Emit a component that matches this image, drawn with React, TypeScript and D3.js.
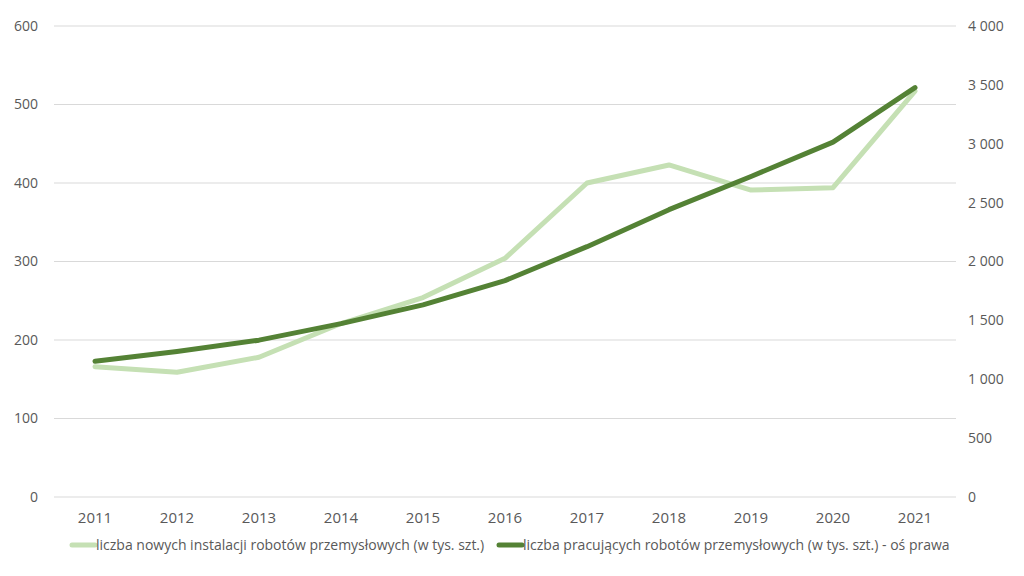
import React from 'react';
import * as d3 from 'd3';

const years = ['2011', '2012', '2013', '2014', '2015', '2016', '2017', '2018', '2019', '2020', '2021'];
const newInstallations = [166, 159, 178, 221, 254, 304, 400, 423, 391, 394, 517];
const operationalStock = [1153, 1235, 1332, 1472, 1632, 1838, 2126, 2440, 2722, 3014, 3477];
const leftTicks = [0, 100, 200, 300, 400, 500, 600];
const rightTicks = [0, 500, 1000, 1500, 2000, 2500, 3000, 3500, 4000];
const legendLabels = [
  'liczba nowych instalacji robotów przemysłowych (w tys. szt.)',
  'liczba pracujących robotów przemysłowych (w tys. szt.) - oś prawa',
];

const W = 1024;
const H = 576;
const margin = { top: 26, right: 68, bottom: 79, left: 54 };
const lightGreen = '#C5E0B4';
const darkGreen = '#548235';
const textColor = '#595959';
const font = '"Liberation Sans Narrow", "Open Sans", sans-serif';

const fmtSpace = (v: number) => d3.format(',')(v).replace(/,/g, ' ');

const App: React.FC = () => {
  const x = d3.scaleBand().domain(years).range([margin.left, W - margin.right]);
  const yL = d3.scaleLinear().domain([0, 600]).range([H - margin.bottom, margin.top]);
  const yR = d3.scaleLinear().domain([0, 4000]).range([H - margin.bottom, margin.top]);
  const cx = (d: string) => (x(d) ?? 0) + x.bandwidth() / 2;

  const lightLine = d3.line<number>().x((_, i) => cx(years[i])).y(d => yL(d))(newInstallations) ?? '';
  const darkLine = d3.line<number>().x((_, i) => cx(years[i])).y(d => yR(d))(operationalStock) ?? '';

  return (
    <svg width={W} height={H} style={{ position: 'absolute', left: 0, top: 0, background: '#fff' }}
      fontFamily={font}>
      {leftTicks.map(t => (
        <g key={t}>
          <line x1={margin.left} x2={W - margin.right} y1={yL(t)} y2={yL(t)} stroke="#D9D9D9" strokeWidth={1} />
          <text x={38} y={yL(t)} dy="0.35em" textAnchor="end" fontSize={14} fill={textColor}
            fontFamily='"Open Sans", sans-serif'>{t}</text>
        </g>
      ))}
      {rightTicks.map(t => (
        <text key={t} x={968} y={yR(t)} dy="0.35em" textAnchor="start" fontSize={14} fill={textColor}
          fontFamily='"Open Sans", sans-serif'>{fmtSpace(t)}</text>
      ))}
      {years.map(y => (
        <text key={y} x={cx(y)} y={518} dy="0.35em" textAnchor="middle" fontSize={15} fill={textColor}>{y}</text>
      ))}
      <path d={lightLine} fill="none" stroke={lightGreen} strokeWidth={5} strokeLinejoin="round" strokeLinecap="round" />
      <path d={darkLine} fill="none" stroke={darkGreen} strokeWidth={5} strokeLinejoin="round" strokeLinecap="round" />

      <g>
        <line x1={72} x2={95} y1={545} y2={545} stroke={lightGreen} strokeWidth={5} strokeLinecap="round" />
        <text x={96} y={545} dy="0.35em" fontSize={14} fill={textColor}>{legendLabels[0]}</text>
        <line x1={499} x2={522} y1={545} y2={545} stroke={darkGreen} strokeWidth={5} strokeLinecap="round" />
        <text x={523} y={545} dy="0.35em" fontSize={14} fill={textColor}>{legendLabels[1]}</text>
      </g>
    </svg>
  );
};

export default App;
